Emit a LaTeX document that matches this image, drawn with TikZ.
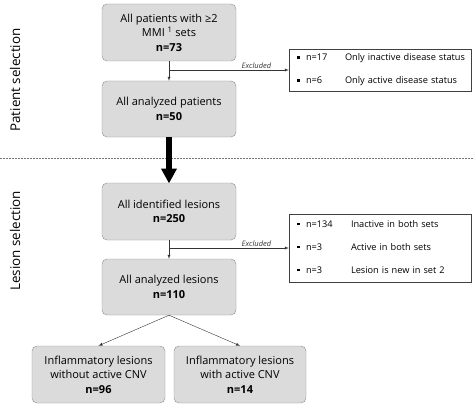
\documentclass[tikz,border=0pt]{standalone}
\usepackage{fontspec}
\setmainfont{Open Sans}
\usetikzlibrary{arrows.meta}

\newcommand{\sqbullet}{\rule[1.8pt]{2.6pt}{2.6pt}}

\tikzset{
  box/.style={draw=black!45, fill=black!14, rounded corners=5pt, minimum width=134pt, minimum height=57pt, align=center, inner sep=2pt, font=\fontsize{11}{14.5}\selectfont},
  exclbox/.style={draw=black!75, fill=white, minimum width=182pt, text width=166pt, inner xsep=8pt, inner ysep=0pt, align=left, font=\fontsize{9.2}{11}\selectfont},
  sidelabel/.style={rotate=90, font=\fontsize{13.4}{15}\selectfont},
  link/.style={->,>=latex, black!80},
}

\begin{document}
\begin{tikzpicture}[x=1pt, y=-1pt]
    \useasboundingbox (0,0) rectangle (474,404);

    %patients
    \node[box] (allpat) at (169,32.5) {All patients with ≥2\\MMI \textsuperscript{1} sets\\\textbf{n=73}};
    \node[box, minimum height=56pt] (anapat) at (169,109) {All analyzed patients\\\textbf{n=50}};
    \node[exclbox, minimum height=42pt] (exclpat) at (380,70) {%
      \begin{tabular}{@{}p{9pt}@{}p{39pt}@{}l@{}}
        \sqbullet & n=17 & Only inactive disease status\\[12pt]
        \sqbullet & n=6  & Only active disease status
      \end{tabular}};

    \draw[link] (allpat) -- (anapat);
    \draw[link] (allpat.south |- exclpat.west) -- (exclpat.west)
        node[above, pos=0.73, inner sep=1.5pt, font=\fontsize{7.5}{8}\selectfont\itshape]{Excluded};

    %separation
    \draw[black!55, dash pattern=on 1.6pt off 1.4pt] (0,158) -- (474,158);
    \node[sidelabel] (patsel) at (15,80) {Patient selection};
    \node[sidelabel] (lessel) at (15,241) {Lesion selection};

    \draw[-{Triangle[width=15pt,length=15pt]}, line width=5.5pt] (anapat) -- (169,183.5);

    %lesions
    \node[box] (idles) at (169,211.5) {All identified lesions\\\textbf{n=250}};
    \node[box, minimum height=56pt] (anales) at (169,287) {All analyzed lesions\\\textbf{n=110}};
    \node[exclbox, minimum height=68pt] (exclles) at (380,248) {%
      \begin{tabular}{@{}p{9pt}@{}p{45pt}@{}l@{}}
        \sqbullet & n=134 & Inactive in both sets\\[12pt]
        \sqbullet & n=3   & Active in both sets\\[12pt]
        \sqbullet & n=3   & Lesion is new in set 2
      \end{tabular}};

    \draw[link] (idles) -- (anales);
    \draw[link] (idles.south |- exclles.west) -- (exclles.west)
        node[above, pos=0.73, inner sep=1.5pt, font=\fontsize{7.5}{8}\selectfont\itshape]{Excluded};

    %inflammatory
    \node[box, minimum width=133pt] (nocnv) at (98.5,374.5) {Inflammatory lesions\\without active CNV\\\textbf{n=96}};
    \node[box, minimum width=132pt] (withcnv) at (240,374.5) {Inflammatory lesions\\with active CNV\\\textbf{n=14}};

    \draw[link] (anales.south) -- (nocnv.north);
    \draw[link] (anales.south) -- (withcnv.north);

\end{tikzpicture}
\end{document}
